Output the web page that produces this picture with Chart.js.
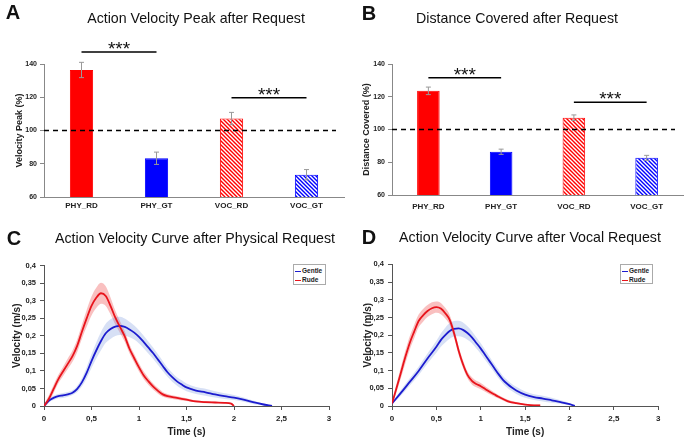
<!DOCTYPE html>
<html>
<head>
<meta charset="utf-8">
<script src="https://cdn.jsdelivr.net/npm/chart.js@4/dist/chart.umd.min.js"></script>
<style>
  html, body { margin:0; padding:0; background:#fff; }
  #wrap { position:relative; width:685px; height:439px; overflow:hidden; font-family:'Liberation Sans', Arial, sans-serif; }
  canvas { position:absolute; }
  .ttl { position:absolute; white-space:nowrap; transform:translate(-50%,-50%); font-size:14.2px; color:#111; }
  .lab { position:absolute; white-space:nowrap; transform:translate(-50%,-50%); font-size:20px; font-weight:bold; color:#111; }
  .leg { position:absolute; border:1px solid #aaa; background:#fff; font-size:6.5px; font-weight:bold; color:#222; box-sizing:border-box; padding:1px 1px 0 1px; overflow:hidden; }
  .leg div { height:9px; line-height:9px; white-space:nowrap; }
  .leg span.sw { display:inline-block; width:6px; height:1.5px; vertical-align:middle; margin-right:1px; }
</style>
</head>
<body>
<div id="wrap">
  <canvas id="cA" width="345" height="215" style="left:0;top:0;width:345px;height:215px"></canvas>
  <canvas id="cB" width="345" height="215" style="left:340px;top:0;width:345px;height:215px"></canvas>
  <canvas id="cC" width="345" height="214" style="left:0;top:225px;width:345px;height:214px"></canvas>
  <canvas id="cD" width="345" height="214" style="left:340px;top:225px;width:345px;height:214px"></canvas>

  <div class="lab" style="left:13px;top:12px">A</div>
  <div class="ttl" style="left:196px;top:18px">Action Velocity Peak after Request</div>
  <div class="lab" style="left:369px;top:13px">B</div>
  <div class="ttl" style="left:517px;top:18px">Distance Covered after Request</div>
  <div class="lab" style="left:14px;top:238px">C</div>
  <div class="ttl" style="left:195px;top:238px">Action Velocity Curve after Physical Request</div>
  <div class="lab" style="left:369px;top:237px">D</div>
  <div class="ttl" style="left:530px;top:237px">Action Velocity Curve after Vocal Request</div>

  <div class="leg" style="left:293px;top:264px;width:33px;height:21px">
    <div><span class="sw" style="background:#1c1ccf"></span>Gentle</div>
    <div><span class="sw" style="background:#e8141c"></span>Rude</div>
  </div>
  <div class="leg" style="left:620px;top:264px;width:33px;height:20px">
    <div><span class="sw" style="background:#1c1ccf"></span>Gentle</div>
    <div><span class="sw" style="background:#e8141c"></span>Rude</div>
  </div>
</div>
<script>
// ---------------- DATA ----------------
const categories = ['PHY_RD', 'PHY_GT', 'VOC_RD', 'VOC_GT'];
const peakValues = [136.4, 83.3, 107.2, 73.4];
const peakErrors = [4.6, 3.7, 3.7, 3.1];
const distValues = [123.6, 86.4, 107.2, 82.7];
const distErrors = [2.3, 1.6, 1.7, 1.5];
const barTickLabels = ['60', '80', '100', '120', '140'];
const baselinePercent = 100;
// significance brackets: [fromIndex, toIndex, level(%)]
const peakSig = [[0, 1, 147.2], [2, 3, 119.7]];
const distSig = [[0, 1, 131.6], [2, 3, 116.6]];
const sigText = '***';

const velTickLabels = ['0', '0,05', '0,1', '0,15', '0,2', '0,25', '0,3', '0,35', '0,4'];
const timeTickLabels = ['0', '0,5', '1', '1,5', '2', '2,5', '3'];
const seriesNames = ['Gentle', 'Rude'];

// Panel C (physical request)
const cRudeT   = [0, 0.05, 0.1, 0.15, 0.2, 0.25, 0.3, 0.35, 0.4, 0.45, 0.5, 0.55, 0.6, 0.65, 0.7, 0.75, 0.8, 0.85, 0.9, 0.95, 1.0, 1.05, 1.1, 1.15, 1.2, 1.25, 1.3, 1.4, 1.5, 1.6, 1.7, 1.8, 1.9, 1.97, 2.0];
const cRudeV   = [0, 0.02, 0.048, 0.076, 0.098, 0.12, 0.142, 0.172, 0.212, 0.25, 0.285, 0.308, 0.321, 0.313, 0.285, 0.252, 0.225, 0.198, 0.163, 0.136, 0.11, 0.087, 0.07, 0.055, 0.043, 0.033, 0.028, 0.023, 0.018, 0.013, 0.011, 0.01, 0.009, 0.007, 0];
const cRudeE   = [0.005, 0.01, 0.012, 0.012, 0.013, 0.015, 0.016, 0.018, 0.02, 0.024, 0.027, 0.029, 0.03, 0.028, 0.024, 0.02, 0.017, 0.015, 0.013, 0.012, 0.012, 0.011, 0.01, 0.009, 0.008, 0.007, 0.006, 0.005, 0.004, 0.003, 0.003, 0.002, 0.002, 0.002, 0.002];
const cGentleT = [0, 0.05, 0.1, 0.15, 0.2, 0.25, 0.3, 0.35, 0.4, 0.45, 0.5, 0.55, 0.6, 0.65, 0.7, 0.75, 0.8, 0.85, 0.9, 0.95, 1.0, 1.05, 1.1, 1.15, 1.2, 1.25, 1.3, 1.35, 1.4, 1.45, 1.5, 1.6, 1.7, 1.8, 1.9, 2.0, 2.1, 2.2, 2.3, 2.4];
const cGentleV = [0, 0.015, 0.023, 0.028, 0.03, 0.033, 0.038, 0.049, 0.068, 0.095, 0.128, 0.158, 0.185, 0.207, 0.219, 0.226, 0.228, 0.225, 0.218, 0.209, 0.197, 0.182, 0.166, 0.15, 0.132, 0.114, 0.096, 0.082, 0.07, 0.061, 0.053, 0.044, 0.039, 0.033, 0.028, 0.024, 0.018, 0.011, 0.005, 0];
const cGentleE = [0.003, 0.005, 0.006, 0.006, 0.007, 0.007, 0.007, 0.009, 0.012, 0.016, 0.02, 0.023, 0.026, 0.027, 0.028, 0.027, 0.026, 0.024, 0.022, 0.02, 0.019, 0.018, 0.017, 0.016, 0.015, 0.014, 0.013, 0.013, 0.012, 0.012, 0.011, 0.01, 0.01, 0.009, 0.008, 0.007, 0.006, 0.005, 0.003, 0.001];

// Panel D (vocal request)
const dRudeT   = [0, 0.05, 0.1, 0.15, 0.2, 0.25, 0.3, 0.35, 0.4, 0.45, 0.5, 0.55, 0.6, 0.65, 0.7, 0.75, 0.8, 0.85, 0.9, 0.95, 1.0, 1.05, 1.1, 1.15, 1.2, 1.3, 1.4, 1.5, 1.6, 1.67];
const dRudeV   = [0.007, 0.05, 0.094, 0.138, 0.178, 0.21, 0.24, 0.256, 0.268, 0.276, 0.279, 0.275, 0.262, 0.243, 0.205, 0.157, 0.118, 0.088, 0.071, 0.062, 0.056, 0.048, 0.04, 0.033, 0.026, 0.014, 0.008, 0.004, 0.002, 0.002];
const dRudeE   = [0.004, 0.012, 0.016, 0.018, 0.019, 0.019, 0.018, 0.018, 0.017, 0.017, 0.016, 0.016, 0.015, 0.014, 0.013, 0.012, 0.011, 0.01, 0.01, 0.009, 0.009, 0.008, 0.007, 0.006, 0.005, 0.004, 0.003, 0.002, 0.002, 0.002];
const dGentleT = [0, 0.1, 0.2, 0.3, 0.4, 0.5, 0.55, 0.6, 0.65, 0.7, 0.75, 0.8, 0.85, 0.9, 0.95, 1.0, 1.05, 1.1, 1.15, 1.2, 1.25, 1.3, 1.35, 1.4, 1.5, 1.6, 1.7, 1.8, 1.9, 2.0, 2.06];
const dGentleV = [0.007, 0.037, 0.068, 0.099, 0.134, 0.167, 0.186, 0.2, 0.212, 0.218, 0.219, 0.215, 0.206, 0.194, 0.178, 0.162, 0.144, 0.126, 0.108, 0.09, 0.074, 0.062, 0.052, 0.044, 0.032, 0.025, 0.021, 0.016, 0.011, 0.005, 0];
const dGentleE = [0.003, 0.008, 0.01, 0.012, 0.014, 0.017, 0.019, 0.021, 0.022, 0.022, 0.022, 0.021, 0.019, 0.017, 0.016, 0.015, 0.014, 0.013, 0.012, 0.012, 0.011, 0.011, 0.01, 0.01, 0.009, 0.008, 0.008, 0.007, 0.005, 0.003, 0.001];

// ---------------- STYLE ----------------
const FONT = "'Liberation Sans', Arial, sans-serif";
Chart.defaults.font.family = FONT;
Chart.defaults.color = '#222';
const RED = '#ff0000', BLUE = '#0000ff';
const LRED = '#e8141c', LBLUE = '#1c1ccf';
const RED_BAND = 'rgba(240,90,90,0.38)', BLUE_BAND = 'rgba(110,145,220,0.28)';

function hatch(color) {
  const c = document.createElement('canvas');
  c.width = 4; c.height = 4;
  const x = c.getContext('2d');
  x.fillStyle = '#fff'; x.fillRect(0, 0, 4, 4);
  x.strokeStyle = color; x.lineWidth = 1.4;
  x.beginPath();
  x.moveTo(-1, -1); x.lineTo(5, 5);
  x.moveTo(-1, 3); x.lineTo(1, 5);
  x.moveTo(3, -1); x.lineTo(5, 1);
  x.stroke();
  return x.createPattern(c, 'repeat');
}

const barExtras = {
  id: 'barExtras',
  afterDatasetsDraw(chart, args, opts) {
    const ctx = chart.ctx, xs = chart.scales.x, ys = chart.scales.y, ca = chart.chartArea;
    const meta = chart.getDatasetMeta(0);
    ctx.save();
    // error bars
    ctx.strokeStyle = '#999'; ctx.lineWidth = 1;
    opts.values.forEach((v, i) => {
      const px = meta.data[i].x;
      const t = ys.getPixelForValue(v + opts.errors[i]);
      const b = ys.getPixelForValue(v - opts.errors[i]);
      ctx.beginPath();
      ctx.moveTo(px, t); ctx.lineTo(px, b);
      ctx.moveTo(px - 2.5, t); ctx.lineTo(px + 2.5, t);
      ctx.moveTo(px - 2.5, b); ctx.lineTo(px + 2.5, b);
      ctx.stroke();
    });
    // baseline dashed
    ctx.strokeStyle = '#000'; ctx.lineWidth = 1.5; ctx.setLineDash([5, 4]);
    const by = ys.getPixelForValue(opts.baseline);
    ctx.beginPath(); ctx.moveTo(ca.left, by); ctx.lineTo(ca.right - 8, by); ctx.stroke();
    ctx.setLineDash([]);
    // significance brackets
    ctx.fillStyle = '#111';
    ctx.font = '19px ' + FONT;
    ctx.textAlign = 'center'; ctx.textBaseline = 'alphabetic';
    opts.sig.forEach(s => {
      const x1 = xs.getPixelForValue(s[0]), x2 = xs.getPixelForValue(s[1]);
      const y = ys.getPixelForValue(s[2]);
      ctx.beginPath(); ctx.moveTo(x1, y); ctx.lineTo(x2, y); ctx.stroke();
      ctx.fillText(sigText, (x1 + x2) / 2, y + 3);
    });
    ctx.restore();
  }
};

function barChart(id, values, errors, sig, yTitle, yWidth, xHeight, padRight, titlePad, xTickPad) {
  return new Chart(document.getElementById(id), {
    type: 'bar',
    data: {
      labels: categories,
      datasets: [{
        data: values,
        backgroundColor: [RED, BLUE, hatch(RED), hatch(BLUE)],
        borderColor: [RED, BLUE, RED, BLUE],
        borderWidth: 1,
        categoryPercentage: 1,
        barPercentage: 0.31
      }]
    },
    options: {
      responsive: false, animation: false,
      layout: { padding: { top: 64, right: padRight, left: 0, bottom: 0 } },
      plugins: {
        legend: { display: false }, tooltip: { enabled: false },
        barExtras: { values, errors, sig, baseline: baselinePercent }
      },
      scales: {
        x: {
          grid: { display: true, drawOnChartArea: false, drawTicks: false, color: '#888' },
          border: { color: '#888' },
          ticks: { font: { size: 8, weight: 'bold' }, color: '#222', padding: xTickPad },
          afterFit(s) { s.height = xHeight; }
        },
        y: {
          min: 60, max: 140,
          ticks: { stepSize: 20, font: { size: 7, weight: 'bold' }, color: '#222', padding: 3,
                   callback: (v, i) => barTickLabels[i] },
          grid: { drawOnChartArea: false, tickLength: 4, color: '#888' },
          border: { color: '#888' },
          title: { display: true, text: yTitle, font: { size: 9, weight: 'bold' }, color: '#222',
                   padding: { top: titlePad, bottom: 0 } },
          afterFit(s) { s.width = yWidth; }
        }
      }
    },
    plugins: [barExtras]
  });
}

barChart('cA', peakValues, peakErrors, peakSig, 'Velocity Peak (%)', 44, 18, 1, 14.5, 4);
barChart('cB', distValues, distErrors, distSig, 'Distance Covered (%)', 52, 20, 2, 21.5, 7);

function pts(t, v, e, sign) {
  return t.map((x, i) => ({ x: x, y: v[i] + sign * e[i] }));
}
function lineSets(gT, gV, gE, rT, rV, rE) {
  const common = { pointRadius: 0, showLine: true, cubicInterpolationMode: 'monotone' };
  return [
    Object.assign({ data: pts(rT, rV, rE, 1), fill: '+1', backgroundColor: RED_BAND, borderWidth: 0, order: 5 }, common),
    Object.assign({ data: pts(rT, rV, rE, -1), fill: false, borderWidth: 0, order: 5 }, common),
    Object.assign({ data: pts(gT, gV, gE, 1), fill: '+1', backgroundColor: BLUE_BAND, borderWidth: 0, order: 4 }, common),
    Object.assign({ data: pts(gT, gV, gE, -1), fill: false, borderWidth: 0, order: 4 }, common),
    Object.assign({ label: seriesNames[0], data: pts(gT, gV, gE, 0), borderColor: LBLUE, borderWidth: 1.8, fill: false, order: 2 }, common),
    Object.assign({ label: seriesNames[1], data: pts(rT, rV, rE, 0), borderColor: LRED, borderWidth: 1.8, fill: false, order: 1 }, common)
  ];
}

function lineChart(id, sets, padTop, padRight, yWidth, yTitlePad) {
  return new Chart(document.getElementById(id), {
    type: 'scatter',
    data: { datasets: sets },
    options: {
      responsive: false, animation: false,
      layout: { padding: { top: padTop, right: padRight, left: 0, bottom: 0 } },
      plugins: { legend: { display: false }, tooltip: { enabled: false } },
      scales: {
        x: {
          type: 'linear', min: 0, max: 3,
          ticks: { stepSize: 0.5, font: { size: 8, weight: 'bold' }, color: '#222', padding: 4,
                   callback: (v, i) => timeTickLabels[i] },
          grid: { drawOnChartArea: false, tickLength: 4, color: '#555' },
          border: { color: '#555' },
          title: { display: true, text: 'Time (s)', font: { size: 10, weight: 'bold' }, color: '#222', padding: { top: 0, bottom: 1 } },
          afterFit(s) { s.height = 33; }
        },
        y: {
          min: 0, max: 0.4,
          ticks: { stepSize: 0.05, font: { size: 7.5, weight: 'bold' }, color: '#222', padding: 4,
                   callback: (v, i) => velTickLabels[i] },
          grid: { drawOnChartArea: false, tickLength: 4, color: '#555' },
          border: { color: '#555' },
          title: { display: true, text: 'Velocity (m/s)', font: { size: 10, weight: 'bold' }, color: '#222', padding: { top: yTitlePad, bottom: 0 } },
          afterFit(s) { s.width = yWidth; }
        }
      }
    }
  });
}

lineChart('cC', lineSets(cGentleT, cGentleV, cGentleE, cRudeT, cRudeV, cRudeE), 40.5, 16, 44, 11);
lineChart('cD', lineSets(dGentleT, dGentleV, dGentleE, dRudeT, dRudeV, dRudeE), 39.3, 26.7, 52, 22);
</script>
</body>
</html>
